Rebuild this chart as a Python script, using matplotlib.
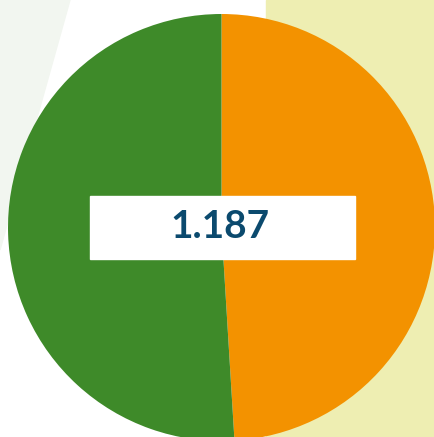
import matplotlib.pyplot as plt
from matplotlib.patches import Rectangle, Polygon

# two shares of the total, orange first (clockwise from 12 o'clock)
labels = ['Orange', 'Green']
values = [582, 605]
colors = ['#f39200', '#3e8a29']
total_label = '1.187'

W, H = 435, 437

fig = plt.figure(figsize=(W / 100, H / 100), dpi=100)
ax = fig.add_axes([0, 0, 1, 1])
ax.set_xlim(0, W)
ax.set_ylim(0, H)
ax.set_aspect('equal')
ax.axis('off')

# background shapes
ax.add_patch(Rectangle((266, 0), W - 266, H, color='#eeeeb2', zorder=0))
ax.add_patch(Polygon([(0, H), (70, H), (0, H - 250)], closed=True,
                     color='#f2f6f0', zorder=0))

ax.pie(values, colors=colors, startangle=90, counterclock=False,
       center=(221.5, H - 227.5), radius=213.5,
       wedgeprops=dict(linewidth=0), frame=True)
ax.set_xlim(0, W)
ax.set_ylim(0, H)
ax.axis('off')

# label box with the total
ax.add_patch(Rectangle((90, H - 259), 265, 63, color='white', zorder=5))
ax.text(220, H - 226, total_label, ha='center', va='center',
        fontsize=28, fontweight='bold', family='Lato', color='#0b4a6e',
        zorder=6)

fig.savefig('out.png', dpi=100)
